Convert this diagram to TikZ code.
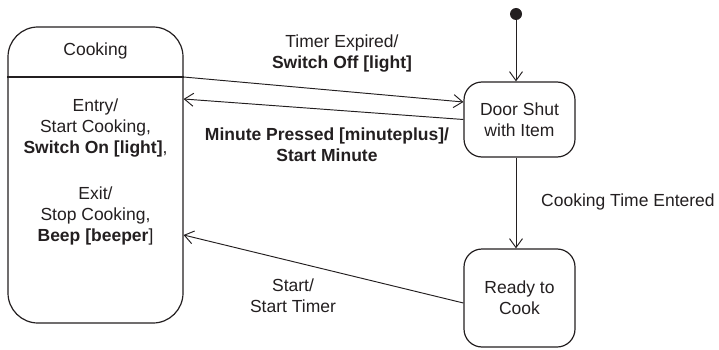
\documentclass[tikz,border=0pt]{standalone}
\usepackage{fontspec}
\setmainfont{Liberation Sans}
\usetikzlibrary{arrows.meta,calc}
\definecolor{ink}{HTML}{231F20}
\begin{document}
\begin{tikzpicture}[x=1pt,y=-1pt,
  every node/.style={font=\fontsize{17.5}{21}\selectfont, text=ink},
  statebox/.style={draw=ink, line width=1.2pt, rounded corners=18pt, minimum width=111pt, inner sep=0pt, align=center},
  txt/.style={align=center, inner sep=0pt},
  trans/.style={draw=ink, line width=0.95pt, -{Straight Barb[length=9pt,width=13pt,line width=0.95pt]}}]
\useasboundingbox (0,0) rectangle (719,350);
% Cooking state
\node[draw=ink, line width=1.2pt, rounded corners=30pt, minimum width=175pt, minimum height=296pt, inner sep=0pt] (cook) at (95.5,175) {};
\draw[ink, line width=1.2pt] ([yshift=98pt]cook.west) -- ([yshift=98pt]cook.east);
\node[txt] (cooktitle) at (95.5,51) {Cooking};
\node[txt] (entry) at (95.5,128) {Entry/\\Start Cooking,\\\textbf{Switch On [light]},};
\node[txt] (exit) at (95.5,215.5) {Exit/\\Stop Cooking,\\\textbf{Beep [beeper}]};
% other states
\node[statebox, minimum height=75pt] (door) at (519.5,119.5) {Door Shut\\with Item};
\node[statebox, minimum height=98pt] (ready) at (519.5,298) {Ready to\\Cook};
\fill[ink] (516,14) circle (6pt) coordinate (dot);
\node[inner sep=0pt, minimum size=0pt] (init) at (516,14) {};
% transitions
\draw[trans] (init) -- (init |- door.north);
\draw[trans] (init |- door.south) -- (init |- ready.north);
\draw[trans] ([yshift=98pt]cook.east) -- ([yshift=17.5pt]door.west);
\draw[trans] (door.west) -- ([yshift=76pt]cook.east);
\draw[trans] ([yshift=-5pt]ready.west) -- ([yshift=-60pt]cook.east);
% labels
\node[txt] (lbltimer) at (342,54) {Timer Expired/\\\textbf{Switch Off [light]}};
\node[txt, font=\fontsize{17.5}{21}\selectfont\bfseries] (lblminute) at (327,145) {Minute Pressed [minuteplus]/\\Start Minute};
\node[txt, anchor=west] (lblcook) at (541,202) {Cooking Time Entered};
\node[txt] (lblstart) at (293,296) {Start/\\Start Timer};
\end{tikzpicture}
\end{document}
